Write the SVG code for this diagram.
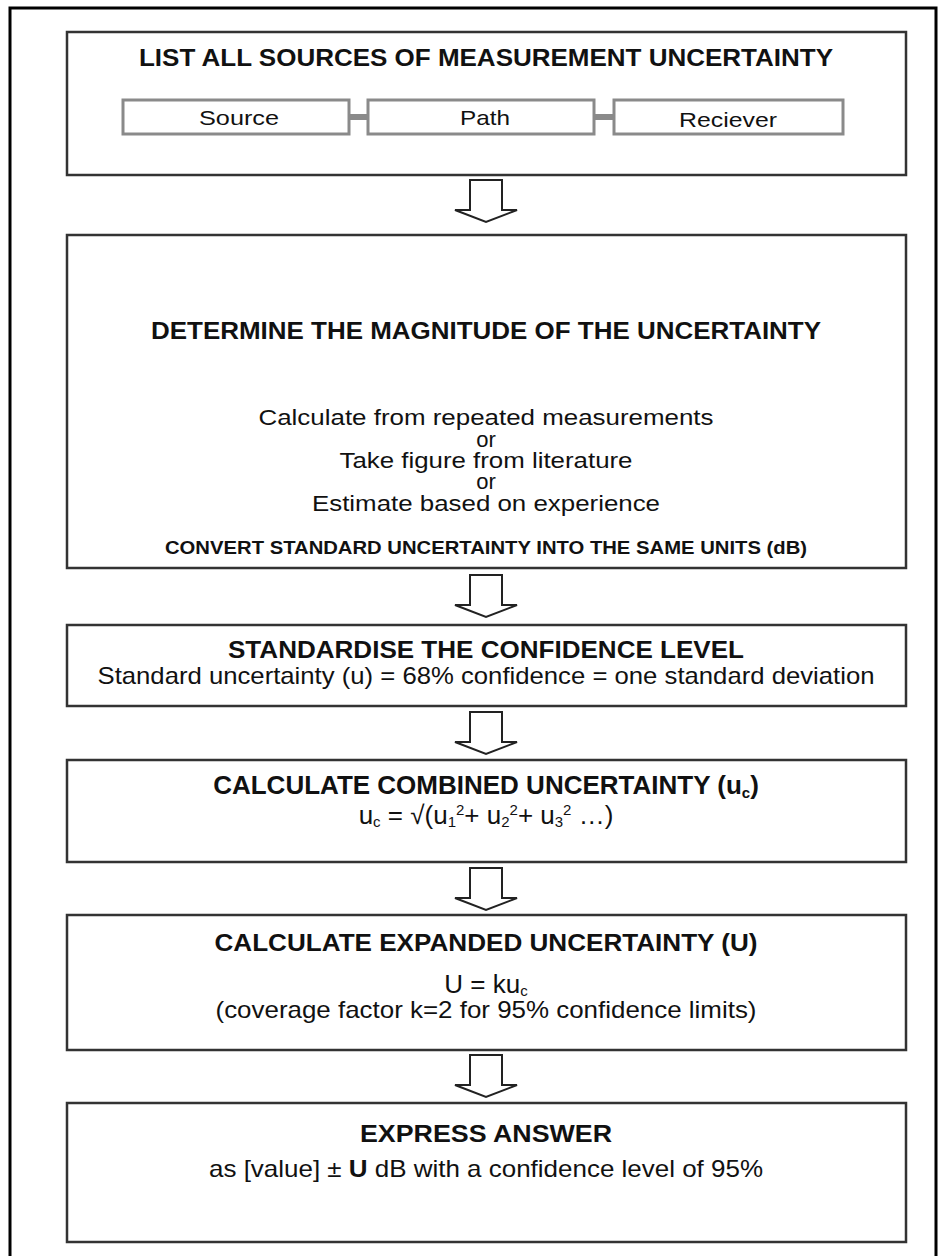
<svg xmlns="http://www.w3.org/2000/svg" width="938" height="1256" viewBox="0 0 938 1256">
<style>
.box{fill:#fff;stroke:#333;stroke-width:2.5}
.sub{fill:#fff;stroke:#8a8a8a;stroke-width:3}
.link{stroke:#8a8a8a;stroke-width:6}
.arr{fill:#fff;stroke:#222;stroke-width:2;stroke-linejoin:miter}
text{font-family:"Liberation Sans",Arial,sans-serif;fill:#111;text-anchor:middle}
.t{font-weight:bold;font-size:24px}
.r{font-size:24px}
.m{font-size:22px}
.l{font-size:21px}
.s{font-weight:bold;font-size:18px}
.sb{font-size:15px}
</style>
<rect x="0" y="0" width="938" height="1256" fill="#fff"/>
<path d="M10,1260 V8 H936 V1260" fill="none" stroke="#000" stroke-width="3"/>

<g id="node1">
<rect class="box" x="67" y="32" width="839" height="143"/>
<text class="t" x="486" y="66" textLength="694" lengthAdjust="spacingAndGlyphs">LIST ALL SOURCES OF MEASUREMENT UNCERTAINTY</text>
<g id="node1-source"><rect class="sub" x="123" y="100" width="226" height="34"/><text class="l" x="239" y="125" textLength="80" lengthAdjust="spacingAndGlyphs">Source</text></g>
<g id="node1-path"><rect class="sub" x="368" y="100" width="226" height="34"/><text class="l" x="485" y="125" textLength="50" lengthAdjust="spacingAndGlyphs">Path</text></g>
<g id="node1-receiver"><rect class="sub" x="614" y="100" width="229" height="34"/><text class="l" x="728" y="127" textLength="98" lengthAdjust="spacingAndGlyphs">Reciever</text></g>
</g>

<g id="node2">
<rect class="box" x="67" y="235" width="839" height="333"/>
<text class="t" x="486" y="339" textLength="670" lengthAdjust="spacingAndGlyphs">DETERMINE THE MAGNITUDE OF THE UNCERTAINTY</text>
<text class="m" x="486" y="425" textLength="455" lengthAdjust="spacingAndGlyphs">Calculate from repeated measurements</text>
<text class="m" x="486" y="447">or</text>
<text class="m" x="486" y="468" textLength="293" lengthAdjust="spacingAndGlyphs">Take figure from literature</text>
<text class="m" x="486" y="489">or</text>
<text class="m" x="486" y="511" textLength="348" lengthAdjust="spacingAndGlyphs">Estimate based on experience</text>
<text class="s" x="486" y="554" textLength="642" lengthAdjust="spacingAndGlyphs">CONVERT STANDARD UNCERTAINTY INTO THE SAME UNITS (dB)</text>
</g>

<g id="node3">
<rect class="box" x="67" y="625" width="839" height="81"/>
<text class="t" x="486" y="658" textLength="516" lengthAdjust="spacingAndGlyphs">STANDARDISE THE CONFIDENCE LEVEL</text>
<text class="r" x="486" y="684" textLength="777" lengthAdjust="spacingAndGlyphs">Standard uncertainty (u) = 68% confidence = one standard deviation</text>
</g>

<g id="node4">
<rect class="box" x="67" y="760" width="839" height="102"/>
<text class="t" x="486" y="794" style="font-size:26px">CALCULATE COMBINED UNCERTAINTY (u<tspan class="sb" dy="4">c</tspan><tspan dy="-4">)</tspan></text>
<text class="r" x="486" y="824" style="font-size:26px">u<tspan class="sb" dy="3">c</tspan><tspan dy="-3"> = √(u</tspan><tspan class="sb" dy="3">1</tspan><tspan class="sb" dy="-12">2</tspan><tspan dy="9">+ u</tspan><tspan class="sb" dy="3">2</tspan><tspan class="sb" dy="-12">2</tspan><tspan dy="9">+ u</tspan><tspan class="sb" dy="3">3</tspan><tspan class="sb" dy="-12">2</tspan><tspan dy="9"> …)</tspan></text>
</g>

<g id="node5">
<rect class="box" x="67" y="915" width="839" height="135"/>
<text class="t" x="486" y="951" textLength="543" lengthAdjust="spacingAndGlyphs">CALCULATE EXPANDED UNCERTAINTY (U)</text>
<text class="r" x="486" y="993" style="font-size:26px">U = ku<tspan class="sb" dy="3">c</tspan></text>
<text class="r" x="486" y="1018" textLength="541" lengthAdjust="spacingAndGlyphs">(coverage factor k=2 for 95% confidence limits)</text>
</g>

<g id="node6">
<rect class="box" x="67" y="1103" width="839" height="139"/>
<text class="t" x="486" y="1142" textLength="252" lengthAdjust="spacingAndGlyphs">EXPRESS ANSWER</text>
<text class="r" x="486" y="1177" textLength="554" lengthAdjust="spacingAndGlyphs">as [value] ± <tspan font-weight="bold">U</tspan> dB with a confidence level of 95%</text>
</g>

<g id="connectors">
<line class="link" x1="349" y1="117" x2="368" y2="117"/>
<line class="link" x1="594" y1="117" x2="614" y2="117"/>
<polygon class="arr" points="470,180 502,180 502,210 517,210 486,222 455,210 470,210"/>
<polygon class="arr" points="470,575 502,575 502,605 517,605 486,617 455,605 470,605"/>
<polygon class="arr" points="470,712 502,712 502,742 517,742 486,754 455,742 470,742"/>
<polygon class="arr" points="470,868 502,868 502,898 517,898 486,910 455,898 470,898"/>
<polygon class="arr" points="470,1055 502,1055 502,1085 517,1085 486,1097 455,1085 470,1085"/>
</g>
</svg>
